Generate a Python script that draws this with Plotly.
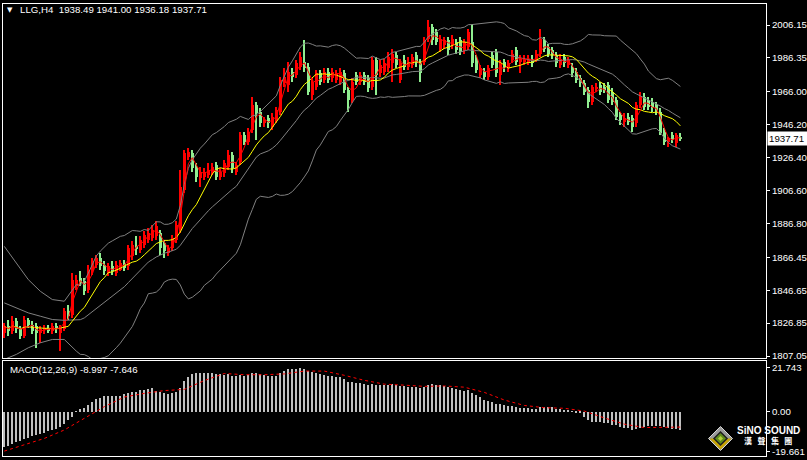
import plotly.graph_objects as go
import pandas as pd

symbol = "LLG,H4"

opens = [
1821,1825,1822,1828,1823,1819,1829,1826,1825,1821,
1823,1824,1822,1825,1821,1823,1834,1832,1849,1854,
1852,1847,1858,1862,1866,1862,1857,1861,1857,1859,
1863,1861,1867,1873,1871,1874,1877,1878,1879,1881,
1875,1869,1872,1877,1883,1907,1927,1929,1921,1914,
1915,1916,1918,1922,1915,1917,1921,1928,1918,1924,
1940,1936,1943,1958,1954,1947,1950,1945,1949,1954,
1971,1970,1978,1976,1981,1984,1981,1964,1969,1977,
1973,1978,1974,1973,1972,1977,1967,1961,1976,1972,
1976,1974,1969,1985,1977,1978,1980,1983,1988,1973,
1985,1981,1982,1988,1983,1984,1998,2005,2002,1992,
1994,1997,1994,1996,1997,1991,1993,1996,1986,1976,
1978,1975,1988,1990,1976,1984,1980,1985,1991,1984,
1984,1984,1986,1986,1989,1997,1993,1991,1988,1982,
1987,1982,1981,1978,1974,1971,1967,1960,1968,1970,
1969,1970,1966,1961,1952,1948,1951,1950,1947,1958,
1963,1961,1960,1958,1954,1942,1936,1940,1935,1938.49]

highs = [
1827,1829,1831,1830,1825,1831,1830,1828,1827,1825,
1826,1826,1827,1827,1826,1836,1838,1857,1856,1858,
1854,1862,1866,1868,1869,1864,1863,1864,1864,1865,
1865,1874,1876,1879,1879,1882,1884,1886,1888,1883,
1877,1874,1880,1888,1919,1931,1932,1931,1923,1921,
1920,1923,1923,1924,1920,1925,1931,1930,1924,1942,
1942,1944,1963,1960,1956,1951,1952,1953,1957,1975,
1980,1984,1980,1985,1990,1997,1983,1974,1979,1979,
1980,1980,1980,1979,1980,1979,1969,1974,1978,1978,
1978,1976,1987,1987,1985,1986,1990,1992,1990,1986,
1988,1987,1989,1990,1986,1999,2009,2007,2004,2000,
1999,1999,2000,1998,1999,1998,2004,2007,1988,1982,
1980,1982,1990,1992,1985,1986,1985,1991,1993,1988,
1988,1988,1988,1991,2004,1999,1995,1993,1990,1989,
1989,1987,1983,1980,1976,1973,1969,1970,1971,1972,
1971,1972,1968,1963,1954,1953,1953,1952,1960,1966,
1965,1963,1962,1960,1956,1944,1939,1942,1941,1941.00]

lows = [
1818,1819,1820,1821,1817,1818,1824,1820,1812,1815,
1820,1821,1820,1821,1810,1822,1829,1830,1847,1849,
1844,1845,1856,1860,1859,1856,1855,1856,1855,1858,
1858,1859,1865,1868,1869,1872,1875,1876,1877,1868,
1866,1867,1870,1875,1881,1905,1925,1918,1912,1909,
1913,1914,1916,1913,1913,1915,1919,1917,1916,1922,
1934,1934,1941,1937,1945,1945,1944,1943,1947,1952,
1969,1966,1972,1974,1979,1978,1964,1961,1967,1970,
1971,1971,1972,1971,1970,1965,1954,1959,1970,1970,
1970,1966,1967,1964,1975,1976,1978,1972,1980,1971,
1979,1979,1980,1981,1972,1982,1996,1994,1994,1990,
1992,1988,1992,1989,1988,1989,1991,1981,1977,1974,
1973,1973,1980,1975,1970,1978,1978,1983,1982,1977,
1982,1982,1981,1984,1987,1990,1987,1986,1981,1980,
1981,1980,1975,1971,1969,1964,1956,1958,1966,1964,
1965,1959,1958,1949,1946,1945,1946,1942,1945,1956,
1955,1955,1954,1952,1940,1934,1933,1935,1933,1936.18]

closes = [
1825,1822,1828,1823,1819,1829,1826,1822,1821,1823,
1824,1822,1825,1823,1824,1834,1831,1853,1853,1851,
1846,1859,1864,1866,1861,1858,1861,1858,1862,1863,
1860,1872,1874,1872,1877,1880,1881,1883,1885,1872,
1870,1872,1878,1886,1909,1929,1930,1920,1915,1918,
1918,1919,1921,1915,1918,1923,1928,1920,1922,1940,
1936,1942,1958,1953,1947,1949,1947,1951,1955,1973,
1975,1978,1975,1983,1987,1980,1966,1972,1977,1972,
1978,1973,1978,1977,1978,1967,1961,1972,1972,1976,
1972,1968,1985,1976,1982,1983,1987,1989,1982,1983,
1981,1984,1987,1983,1977,1997,2005,1997,1996,1998,
1997,1991,1998,1991,1990,1996,2002,1983,1979,1980,
1975,1980,1982,1977,1983,1980,1983,1989,1984,1986,
1986,1986,1983,1989,1998,1992,1989,1988,1983,1986,
1983,1985,1977,1973,1971,1966,1960,1969,1969,1966,
1967,1961,1960,1951,1949,1950,1948,1945,1958,1963,
1957,1957,1956,1955,1941,1936,1938,1937,1940,1937.71]

macd_main = [
-17.4,-16.9,-16.2,-15.2,-14.6,-13.6,-12.9,-12.1,-11.6,-11.3,
-10.4,-9.6,-9.1,-8.6,-7.5,-6.3,-4.1,-2.5,-0.1,1.2,
2.0,3.3,5.0,6.3,7.0,7.6,7.6,7.6,7.6,8.0,
8.6,9.1,9.7,10.0,10.6,11.0,11.1,11.6,10.3,9.7,
9.1,8.6,9.1,10.0,11.6,15.3,17.4,18.6,19.1,19.3,
19.5,19.5,19.4,19.0,18.7,18.5,18.6,18.0,17.6,18.2,
18.0,18.2,19.4,19.4,18.8,18.4,18.0,17.8,18.0,19.4,
20.3,21.0,21.0,21.4,21.743,21.2,20.4,19.8,19.4,18.8,
18.5,18.0,17.7,17.4,17.1,16.2,15.0,14.8,14.4,14.2,
13.8,13.2,13.6,13.2,13.2,13.2,13.4,13.6,13.2,13.0,
12.7,12.5,12.5,12.2,11.6,12.2,13.4,13.6,13.4,13.2,
12.9,12.3,12.0,11.4,10.8,10.5,10.7,9.5,8.2,7.1,
6.0,5.3,4.9,4.0,3.6,3.2,2.9,2.8,2.4,2.0,
1.8,1.6,1.3,1.4,2.2,2.5,2.4,2.1,1.5,1.3,
0.9,0.7,0.2,-0.3,-0.8,-2.5,-4.1,-5.0,-5.0,-5.0,
-5.8,-5.8,-6.6,-6.6,-7.5,-8.3,-8.3,-9.3,-8.6,-8.0,
-7.6,-7.3,-7.0,-6.9,-7.2,-7.8,-8.3,-8.5,-8.7,-8.997]

signal_idx = [0,5,10,15,20,25,30,35,40,45,50,55,60,65,70,75,80,85,90,95,
              100,105,110,115,120,125,130,135,140,145,150,155,160,165,169]
signal_vals = [-19.6,-16.6,-13.3,-9.1,-3.5,2.5,7.3,9.1,10.5,11.1,15.5,19.0,18.4,18.4,18.8,20.2,20.2,18.1,15.6,13.7,
               13.2,12.6,12.8,12.2,9.6,5.8,3.1,2.0,1.7,0.3,-3.1,-6.2,-7.9,-7.7,-7.646]

# Bollinger band values read for the first bars (before a full 20-bar window exists)
bb_head_idx = [0, 3, 6, 9, 12, 15, 18]
bb_head_upper = [1873, 1863, 1853, 1846, 1841, 1840, 1850]
bb_head_middle = [1839, 1836, 1833, 1831, 1829, 1828.5, 1828.5]
bb_head_lower = [1805, 1808, 1812, 1815, 1817, 1817, 1810]

price_ticks = [2006.15, 1986.35, 1966.00, 1946.20, 1926.40, 1906.60,
               1886.80, 1866.45, 1846.65, 1826.85, 1807.05]
macd_ticks = [21.743, 0.00, -19.661]
macd_tick_text = ["21.743", "0.00", "-19.661"]

n = len(closes)
assert len(opens) == n and len(highs) == n and len(lows) == n and len(macd_main) == n
idx = list(range(n))

c = pd.Series(closes, dtype=float)
ma_fast = c.rolling(3, min_periods=1).mean()
ma_slow = c.rolling(10, min_periods=1).mean()
bb_mid = c.rolling(20).mean()
bb_sd = c.rolling(20).std(ddof=0)
bb_up = bb_mid + 2 * bb_sd
bb_lo = bb_mid - 2 * bb_sd
start = 19
band_x = bb_head_idx + idx[start:]
up_y = bb_head_upper + list(bb_up[start:])
mid_y = bb_head_middle + list(bb_mid[start:])
lo_y = bb_head_lower + list(bb_lo[start:])

UP_COL = "#FF0000"
DN_COL = "#90EE90"
cols = [UP_COL if cl > op else DN_COL for op, cl in zip(opens, closes)]
body_base = [min(op, cl) for op, cl in zip(opens, closes)]
body_h = [max(abs(cl - op), 0.4) for op, cl in zip(opens, closes)]
wick_h = [h - l for h, l in zip(highs, lows)]

# plot-area geometry in pixels
PL, PR, PT, PB = 3, 766, 4, 457
def pxx(x):
    return (x - PL) / (PR - PL)
def pxy(y):
    return (PB - y) / (PB - PT)

FONT = "Liberation Sans, Arial, DejaVu Sans"

fig = go.Figure()

# candles
fig.add_trace(go.Bar(x=idx, y=wick_h, base=lows, width=0.24,
                     marker=dict(color=cols, line=dict(width=0)),
                     xaxis="x", yaxis="y", hoverinfo="skip"))
fig.add_trace(go.Bar(x=idx, y=body_h, base=body_base, width=0.62,
                     marker=dict(color=cols, line=dict(width=0)),
                     xaxis="x", yaxis="y", hoverinfo="skip"))

# Bollinger bands
for yy in (up_y, mid_y, lo_y):
    fig.add_trace(go.Scatter(x=band_x, y=yy, mode="lines",
                             line=dict(color="#808080", width=1),
                             xaxis="x", yaxis="y", hoverinfo="skip"))
# moving averages
fig.add_trace(go.Scatter(x=idx, y=ma_slow, mode="lines",
                         line=dict(color="#FFFF00", width=1),
                         xaxis="x", yaxis="y", hoverinfo="skip"))
fig.add_trace(go.Scatter(x=idx, y=ma_fast, mode="lines",
                         line=dict(color="#FF0000", width=1),
                         xaxis="x", yaxis="y", hoverinfo="skip"))

# MACD
fig.add_trace(go.Bar(x=idx, y=macd_main, width=0.28,
                     marker=dict(color="#C0C0C0", line=dict(width=0)),
                     xaxis="x2", yaxis="y2", hoverinfo="skip"))
fig.add_trace(go.Scatter(x=signal_idx, y=signal_vals, mode="lines",
                         line=dict(color="#FF0000", width=1, dash="dot"),
                         xaxis="x2", yaxis="y2", hoverinfo="skip"))

axis_common = dict(showgrid=False, zeroline=False, showline=True, mirror=True,
                   linecolor="white", linewidth=1)

fig.update_layout(
    width=807, height=460,
    margin=dict(l=PL, r=807 - PR, t=PT, b=460 - PB, autoexpand=False),
    paper_bgcolor="black", plot_bgcolor="black",
    showlegend=False, barmode="overlay", bargap=0,
    xaxis=dict(domain=[0, 1], range=[-0.325, 190.4], anchor="y",
               showticklabels=False, ticks="", **axis_common),
    xaxis2=dict(domain=[0, 1], range=[-0.325, 190.4], anchor="y2", matches="x",
                showticklabels=False, ticks="", **axis_common),
    yaxis=dict(domain=[pxy(358), 1], range=[1805.85, 2018.78], side="right",
               anchor="x", tickvals=price_ticks,
               ticktext=[f"{v:.2f}" for v in price_ticks],
               ticks="outside", ticklen=3, tickcolor="white",
               tickfont=dict(family=FONT, size=9.7, color="white"), **axis_common),
    yaxis2=dict(domain=[pxy(456), pxy(361)], range=[-22.04, 25.22], side="right",
                anchor="x2", tickvals=macd_ticks, ticktext=macd_tick_text,
                ticks="outside", ticklen=3, tickcolor="white",
                tickfont=dict(family=FONT, size=9.7, color="white"), **axis_common),
)

ann = []
ann.append(dict(x=pxx(10), y=pxy(10), xref="paper", yref="paper", text="▼",
                showarrow=False, xanchor="center", yanchor="middle",
                font=dict(family="DejaVu Sans", size=7, color="white")))
title = f"{symbol}\u00a0\u00a0{opens[-1]:.2f} {highs[-1]:.2f} {lows[-1]:.2f} {closes[-1]:.2f}"
ann.append(dict(x=pxx(18), y=pxy(10), xref="paper", yref="paper", text=title,
                showarrow=False, xanchor="left", yanchor="middle",
                font=dict(family=FONT, size=9.7, color="white")))
ann.append(dict(x=pxx(8), y=pxy(369), xref="paper", yref="paper",
                text=f"MACD(12,26,9) {macd_main[-1]:.3f} {signal_vals[-1]:.3f}",
                showarrow=False, xanchor="left", yanchor="middle",
                font=dict(family=FONT, size=9.7, color="white")))
ann.append(dict(x=pxx(767), y=closes[-1], xref="paper", yref="y",
                text=f"{closes[-1]:.2f}\u00a0", showarrow=False, xanchor="left",
                yanchor="middle", bgcolor="white", borderpad=1,
                font=dict(family=FONT, size=9.7, color="black")))
ann.append(dict(x=pxx(768), y=pxy(430.5), xref="paper", yref="paper",
                text="<b>SiNO SOUND</b>", showarrow=False, xanchor="center",
                yanchor="middle", font=dict(family=FONT, size=10, color="white")))
ann.append(dict(x=pxx(768), y=pxy(440.5), xref="paper", yref="paper",
                text="<b>漢\u00a0\u00a0\u00a0聲\u00a0\u00a0\u00a0集\u00a0\u00a0\u00a0團</b>",
                showarrow=False, xanchor="center", yanchor="middle",
                font=dict(family="Noto Sans CJK TC", size=8, color="white")))
fig.update_layout(annotations=ann)

def diamond(cx, cy, r):
    pts = [(cx, cy - r), (cx + r, cy), (cx, cy + r), (cx - r, cy)]
    return "M " + " L ".join(f"{pxx(a):.5f},{pxy(b):.5f}" for a, b in pts) + " Z"

def lower_half(cx, cy, r):
    pts = [(cx - r, cy), (cx + r, cy), (cx, cy + r)]
    return "M " + " L ".join(f"{pxx(a):.5f},{pxy(b):.5f}" for a, b in pts) + " Z"

cx, cy = 720.5, 438.5
shapes = [
    dict(type="path", path=diamond(cx, cy, 12), xref="paper", yref="paper",
         fillcolor="#9A9A9A", line=dict(color="#D8D8D8", width=1)),
    dict(type="path", path=lower_half(cx, cy, 11), xref="paper", yref="paper",
         fillcolor="#C8A400", line=dict(width=0)),
    dict(type="path", path=diamond(cx, cy, 6.5), xref="paper", yref="paper",
         fillcolor="#5E8C1A", line=dict(color="#202020", width=1.5)),
    dict(type="path", path=diamond(cx, cy, 2.5), xref="paper", yref="paper",
         fillcolor="#B5D13A", line=dict(width=0)),
]
fig.update_layout(shapes=shapes)

fig.write_html("out.html",
               config={"displayModeBar": False},
               post_script="document.body.style.margin='0';document.body.style.overflow='hidden';")
